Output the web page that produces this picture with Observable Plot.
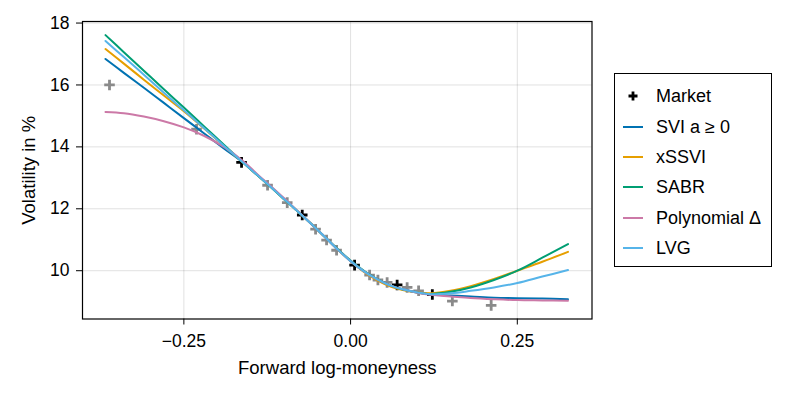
<!DOCTYPE html>
<html>
<head>
<meta charset="utf-8">
<script src="https://cdn.jsdelivr.net/npm/d3@7"></script>
<script src="https://cdn.jsdelivr.net/npm/@observablehq/plot@0.6"></script>
<style>
  html, body { margin: 0; padding: 0; background: #fff; }
  #wrap { position: relative; width: 793px; height: 397px; font-family: "Liberation Sans", Arial, sans-serif; }
  #wrap svg g[aria-label="x-axis label"] text, #wrap svg g[aria-label="y-axis label"] text { font-size: 18.5px; }
  #legend { position: absolute; left: 614px; top: 73px; width: 158px; height: 194px; border: 1px solid #000; box-sizing: border-box; background: #fff; }
  .row { position: absolute; left: 0; height: 24px; display: flex; align-items: center; font-size: 18px; color: #000; }
  .row svg { margin-left: 7px; margin-right: 12px; }
</style>
</head>
<body>
<div id="wrap"></div>
<script>
// Market quotes
const marketX = [-0.3615, -0.231, -0.1635, -0.1245, -0.095, -0.0725, -0.0525, -0.036, -0.021, 0.006, 0.0285, 0.041, 0.0548, 0.0698, 0.0848, 0.102, 0.1226, 0.1526, 0.2108];
const marketY = [16.0, 14.57, 13.50, 12.76, 12.20, 11.80, 11.34, 10.99, 10.66, 10.18, 9.86, 9.70, 9.62, 9.54, 9.46, 9.35, 9.23, 9.02, 8.88];
const marketBlack = [false, false, true, false, false, true, false, false, false, true, false, false, false, true, false, false, true, false, false];

// Model curves sampled on a common moneyness grid
const gridX = [-0.3675, -0.34, -0.31, -0.28, -0.25, -0.22, -0.19, -0.16, -0.14, -0.12, -0.10, -0.08, -0.06, -0.04, -0.02, 0.00, 0.02, 0.04, 0.06, 0.08, 0.10, 0.12, 0.15, 0.18, 0.215, 0.25, 0.2875, 0.326];
const sviVol   = [16.84, 16.39, 15.91, 15.42, 14.93, 14.44, 13.95, 13.47, 13.09, 12.71, 12.32, 11.93, 11.53, 11.12, 10.70, 10.31, 9.98, 9.72, 9.52, 9.39, 9.30, 9.23, 9.20, 9.17, 9.13, 9.11, 9.10, 9.08];
const xssviVol = [17.16, 16.69, 16.17, 15.66, 15.15, 14.60, 14.03, 13.47, 13.09, 12.71, 12.32, 11.93, 11.53, 11.12, 10.70, 10.31, 9.96, 9.69, 9.49, 9.37, 9.30, 9.27, 9.35, 9.50, 9.73, 10.00, 10.29, 10.61];
const sabrVol  = [17.61, 17.06, 16.46, 15.86, 15.27, 14.67, 14.07, 13.47, 13.09, 12.71, 12.32, 11.93, 11.53, 11.12, 10.71, 10.33, 10.00, 9.73, 9.52, 9.38, 9.29, 9.25, 9.32, 9.46, 9.70, 10.00, 10.42, 10.86];
const polyVol  = [15.13, 15.09, 14.98, 14.83, 14.63, 14.36, 14.00, 13.52, 13.12, 12.74, 12.35, 11.94, 11.53, 11.12, 10.70, 10.31, 9.98, 9.72, 9.52, 9.39, 9.29, 9.22, 9.17, 9.12, 9.08, 9.05, 9.04, 9.03];
const lvgVol   = [17.42, 16.90, 16.33, 15.75, 15.18, 14.61, 14.04, 13.47, 13.09, 12.71, 12.32, 11.93, 11.53, 11.12, 10.70, 10.31, 9.98, 9.72, 9.52, 9.39, 9.30, 9.24, 9.27, 9.35, 9.46, 9.60, 9.81, 10.02];

const seriesNames  = ["SVI a ≥ 0", "xSSVI", "SABR", "Polynomial Δ", "LVG"];
const seriesVols   = [sviVol, xssviVol, sabrVol, polyVol, lvgVol];
const seriesColors = ["#0072B2", "#E69F00", "#009E73", "#CC79A7", "#56B4E9"];

const xTicks = [-0.25, 0, 0.25];
const yTicks = [10, 12, 14, 16, 18];

const market = marketX.map((x, i) => ({x, y: marketY[i], black: marketBlack[i]}));
const curves = seriesNames.map((name, s) => gridX.map((x, i) => ({x, y: seriesVols[s][i], name})));

const chart = Plot.plot({
  width: 793,
  height: 397,
  marginLeft: 82,
  marginRight: 201.5,
  marginTop: 21,
  marginBottom: 78.5,
  style: {fontFamily: '"Liberation Sans", Arial, sans-serif', fontSize: "17.5px", color: "#000", background: "#fff"},
  x: {domain: [-0.402, 0.362], ticks: xTicks, tickFormat: d3.format(".2f"), tickSize: 6, tickPadding: 10,
      label: "Forward log-moneyness", labelAnchor: "center", labelOffset: 55, labelArrow: "none"},
  y: {domain: [8.44, 18.05], ticks: yTicks, tickFormat: d3.format("d"), tickSize: 6, tickPadding: 7,
      label: "Volatility in %", labelAnchor: "center", labelOffset: 61, labelArrow: "none"},
  marks: [
    Plot.gridX(xTicks, {stroke: "#000", strokeOpacity: 0.12, strokeWidth: 1}),
    Plot.gridY(yTicks, {stroke: "#000", strokeOpacity: 0.12, strokeWidth: 1}),
    Plot.dot(market, {x: "x", y: "y", symbol: "plus", r: 3.5, strokeWidth: 2.8,
      stroke: d => d.black ? "#000" : "#8a8a8a"}),
    ...curves.map((c, s) => Plot.line(c, {x: "x", y: "y", stroke: seriesColors[s], strokeWidth: 2, curve: "catmull-rom"})),
    Plot.frame({stroke: "#000", strokeWidth: 1.2})
  ]
});
document.getElementById("wrap").appendChild(chart);

// Legend box
const legend = document.createElement("div");
legend.id = "legend";
const rowsTop = [10, 41, 71, 101, 132, 162];
const items = [{name: "Market", marker: true}].concat(seriesNames.map((n, i) => ({name: n, color: seriesColors[i]})));
items.forEach((it, i) => {
  const row = document.createElement("div");
  row.className = "row";
  row.style.top = rowsTop[i] + "px";
  const svg = it.marker
    ? '<svg width="22" height="14"><path d="M11 2.5V11.5M6.5 7H15.5" stroke="#000" stroke-width="2.8"/></svg>'
    : `<svg width="22" height="14"><line x1="1" y1="7" x2="21" y2="7" stroke="${it.color}" stroke-width="2"/></svg>`;
  row.innerHTML = svg + "<span>" + it.name + "</span>";
  legend.appendChild(row);
});
document.getElementById("wrap").appendChild(legend);
</script>
</body>
</html>
